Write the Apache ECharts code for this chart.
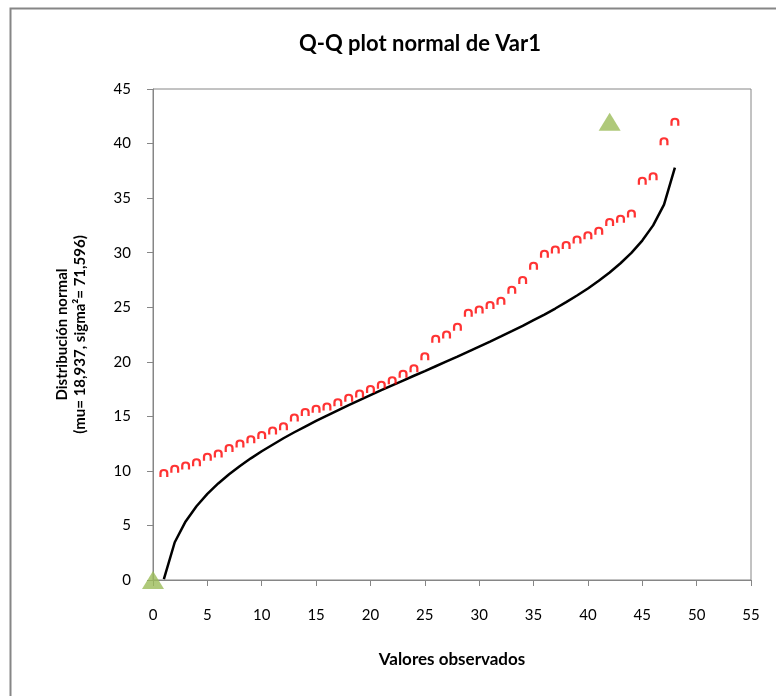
<!DOCTYPE html>
<html><head><meta charset="utf-8">
<script src="https://cdn.jsdelivr.net/npm/echarts@6/dist/echarts.min.js"></script>
<style>html,body{margin:0;padding:0;background:#fff}#c{width:776px;height:696px}</style>
</head><body><div id="c"></div>
<script>
const title = 'Q-Q plot normal de Var1';
const xName = 'Valores observados';
const yName = 'Distribución normal\n(mu= 18,937, sigma²= 71,596)';
const xTicks = {min: 0, max: 55, interval: 5};
const yTicks = {min: 0, max: 45, interval: 5};

// observed (x) positions and red point values
const obsX = [1,2,3,4,5,6,7,8,9,10,11,12,13,14,15,16,17,18,19,20,21,22,23,24,25,26,27,28,29,30,31,32,33,34,35,36,37,38,39,40,41,42,43,44,45,46,47,48];
const obsY = [9.8,10.2,10.5,10.8,11.3,11.6,12.1,12.5,12.9,13.3,13.7,14.1,14.9,15.4,15.7,15.9,16.3,16.7,17.1,17.5,17.9,18.3,18.9,19.4,20.5,22.1,22.5,23.2,24.5,24.8,25.2,25.6,26.6,27.5,28.8,29.9,30.3,30.7,31.2,31.6,32.0,32.8,33.1,33.6,36.6,37.0,40.2,42.0];
// normal reference curve values
const lineY = [0.08,3.46,5.37,6.76,7.89,8.85,9.69,10.45,11.15,11.80,12.40,12.99,13.54,14.06,14.58,15.07,15.55,16.03,16.49,16.95,17.40,17.84,18.28,18.72,19.15,19.59,20.03,20.47,20.93,21.39,21.85,22.32,22.80,23.29,23.81,24.33,24.88,25.47,26.07,26.72,27.42,28.18,29.03,29.98,31.11,32.50,34.41,37.79];
// green triangle markers
const triX = [0, 42];
const triY = [0, 42];

const chart = echarts.init(document.getElementById('c'), null, {renderer: 'canvas'});
const font = 'Lato';
const gray = '#868686';
const archPath = 'path://M0,8 L0,4 Q0,0 4,0 Q8,0 8,4 L8,8 L6,8 L6,4 Q6,2 4,2 Q2,2 2,4 L2,8 Z';

chart.setOption({
  animation: false,
  backgroundColor: '#fff',
  graphic: [{
    type: 'rect', left: 8, top: 6, silent: true, z: -10,
    shape: {width: 820, height: 740},
    style: {fill: 'none', stroke: gray, lineWidth: 2}
  }],
  title: {
    text: title, left: 415, top: 28, textAlign: 'center',
    textStyle: {fontFamily: font, fontSize: 22, fontWeight: 'bold', color: '#000'}
  },
  grid: {left: 153, top: 89, right: 25, bottom: 116, show: true, borderColor: gray, borderWidth: 1, backgroundColor: 'transparent'},
  xAxis: {
    type: 'value', min: xTicks.min, max: xTicks.max, interval: xTicks.interval,
    name: xName, nameLocation: 'middle', nameGap: 71,
    nameTextStyle: {fontFamily: font, fontSize: 17, fontWeight: 'bold', color: '#000'},
    axisLine: {show: true, lineStyle: {color: gray, width: 1}},
    axisTick: {show: true, length: 6, lineStyle: {color: gray}},
    axisLabel: {fontFamily: font, fontSize: 15, color: '#000', margin: 28},
    splitLine: {show: false}
  },
  yAxis: {
    type: 'value', min: yTicks.min, max: yTicks.max, interval: yTicks.interval,
    name: yName, nameLocation: 'middle', nameGap: 64, nameRotate: 90,
    nameTextStyle: {fontFamily: font, fontSize: 15, fontWeight: 'bold', color: '#000', lineHeight: 18, align: 'center'},
    axisLine: {show: true, lineStyle: {color: gray, width: 1}},
    axisTick: {show: true, length: 6, lineStyle: {color: gray}},
    axisLabel: {fontFamily: font, fontSize: 15, color: '#000', margin: 22},
    splitLine: {show: false}
  },
  series: [
    {
      type: 'line', data: obsX.map((x, i) => [x, lineY[i]]),
      showSymbol: false, symbol: 'none', lineStyle: {color: '#000', width: 2.5}, z: 3, clip: false
    },
    {
      type: 'scatter', data: obsX.map((x, i) => [x, obsY[i]]),
      symbol: archPath, symbolSize: [9, 8], itemStyle: {color: '#ff0000'}, z: 4
    },
    {
      type: 'scatter', data: triX.map((x, i) => [x, triY[i]]),
      symbol: 'triangle', symbolSize: [22, 18], itemStyle: {color: '#9bbb59'}, z: 5, clip: false
    }
  ]
});
</script></body></html>
